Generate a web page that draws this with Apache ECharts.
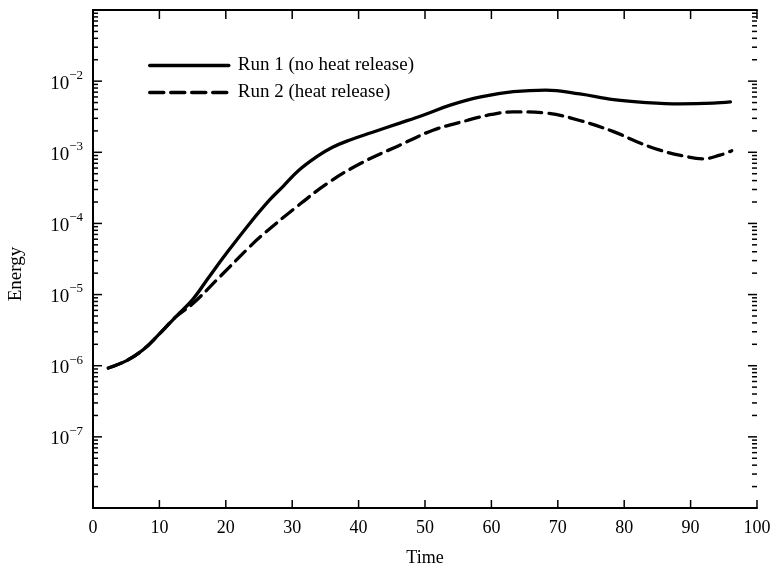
<!DOCTYPE html>
<html>
<head>
<meta charset="utf-8">
<script src="https://cdn.jsdelivr.net/npm/echarts@6/dist/echarts.min.js"></script>
<style>
html,body{margin:0;padding:0;background:#fff;}
#main{width:778px;height:572px;}
</style>
</head>
<body>
<div id="main"></div>
<script>
// Run 1 (no heat release)
var time1 = [2.3, 5, 7.5, 10, 12.5, 15, 17.5, 20.1, 23.6, 26.6, 28.6, 31, 33.7, 36, 38.6, 42, 46.2, 50, 53.8, 58.4, 63.3, 68.2, 73.3, 78.4, 83.4, 88.4, 93.4, 96];
var energy1 = [9.3e-7, 1.17e-6, 1.66e-6, 2.8e-6, 4.9e-6, 8.5e-6, 1.78e-5, 3.8e-5, 1.0e-4, 2.14e-4, 3.3e-4, 5.6e-4, 8.7e-4, 1.17e-3, 1.48e-3, 1.9e-3, 2.57e-3, 3.4e-3, 4.6e-3, 6.0e-3, 7.1e-3, 7.5e-3, 6.6e-3, 5.5e-3, 5.0e-3, 4.8e-3, 4.9e-3, 5.1e-3];
// Run 2 (heat release)
var time2 = [2.3, 5, 7.5, 10, 12.5, 15, 19.1, 23.6, 25.2, 30.2, 35.2, 40.2, 46.2, 51.2, 56.3, 60, 63.3, 68.3, 73.3, 78.4, 81.9, 85.4, 88.9, 91.9, 94.4, 96.2];
var energy2 = [9.3e-7, 1.17e-6, 1.66e-6, 2.8e-6, 4.9e-6, 7.4e-6, 1.78e-5, 4.7e-5, 6.5e-5, 1.58e-4, 3.6e-4, 6.9e-4, 1.26e-3, 2.04e-3, 2.8e-3, 3.4e-3, 3.7e-3, 3.55e-3, 2.8e-3, 1.95e-3, 1.41e-3, 1.07e-3, 8.9e-4, 8.1e-4, 9.1e-4, 1.05e-3];
var seriesNames = ['Run 1 (no heat release)', 'Run 2 (heat release)'];
var labelledExponents = [-7, -6, -5, -4, -3, -2];
var xTicks = [0, 10, 20, 30, 40, 50, 60, 70, 80, 90, 100];

var serif = 'Liberation Serif';
function pairs(xs, ys){ return xs.map(function(x, i){ return [x, ys[i]]; }); }

// log ticks: decades + 2..9 x 10^k
var yTickVals = [];
for (var k = -8; k <= -1; k++) {
    yTickVals.push([0, Math.pow(10, k)]);
    if (k < -1) for (var m = 2; m <= 9; m++) yTickVals.push([0, m * Math.pow(10, k)]);
}
var xTickVals = xTicks.map(function(x){ return [x, 1e-8]; });

function expLabel(v){
    var e = Math.round(Math.log10(v));
    if (labelledExponents.indexOf(e) < 0) return '';
    return '{b|10}{s|\u2212' + (-e) + '}';
}

var tickStyle = {stroke: '#000', lineWidth: 1.5};

var chart = echarts.init(document.getElementById('main'));
var option = {
    animation: false,
    backgroundColor: '#fff',
    grid: {left: 93, right: 21, top: 10, bottom: 64},
    legend: {
        data: seriesNames,
        orient: 'vertical',
        left: 143, top: 51,
        itemWidth: 79, itemHeight: 18, itemGap: 8,
        itemStyle: {opacity: 0},
        lineStyle: {width: 3.5},
        textStyle: {fontFamily: serif, fontSize: 19, color: '#000', padding: [0, 0, 0, 4]}
    },
    xAxis: [{
        type: 'value', min: 0, max: 100, interval: 10,
        name: 'Time', nameLocation: 'middle', nameGap: 41,
        nameTextStyle: {fontFamily: serif, fontSize: 18, color: '#000'},
        axisLine: {lineStyle: {color: '#000', width: 2}},
        axisTick: {show: false},
        axisLabel: {fontFamily: serif, fontSize: 18, color: '#000', margin: 11},
        splitLine: {show: false}
    }, {
        type: 'value', min: 0, max: 100, interval: 10, position: 'top',
        axisLine: {lineStyle: {color: '#000', width: 2}},
        axisTick: {show: false},
        axisLabel: {show: false},
        splitLine: {show: false}
    }],
    yAxis: [{
        type: 'log', logBase: 10, min: 1e-8, max: 1e-1, interval: 1,
        axisLine: {lineStyle: {color: '#000', width: 2}},
        axisTick: {show: false},
        axisLabel: {
            formatter: expLabel, margin: 10, color: '#000',
            rich: {
                b: {fontFamily: serif, fontSize: 19, color: '#000', lineHeight: 24, verticalAlign: 'bottom'},
                s: {fontFamily: serif, fontSize: 13, color: '#000', lineHeight: 24, verticalAlign: 'top'}
            }
        },
        splitLine: {show: false}
    }, {
        type: 'log', logBase: 10, min: 1e-8, max: 1e-1, interval: 1, position: 'right',
        axisLine: {lineStyle: {color: '#000', width: 2}},
        axisTick: {show: false},
        axisLabel: {show: false},
        splitLine: {show: false}
    }],
    graphic: [{
        type: 'text', x: 16, y: 274, rotation: Math.PI / 2,
        style: {text: 'Energy', fontFamily: serif, fontSize: 19, fill: '#000', align: 'center', verticalAlign: 'middle'}
    }],
    series: [{
        name: seriesNames[0], type: 'line', smooth: 0.4, showSymbol: false, symbol: 'none',
        data: pairs(time1, energy1), z: 3,
        lineStyle: {color: '#000', width: 3.3, cap: 'round'},
        itemStyle: {color: '#000'}
    }, {
        name: seriesNames[1], type: 'line', smooth: 0.4, showSymbol: false, symbol: 'none',
        data: pairs(time2, energy2), z: 2,
        lineStyle: {color: '#000', width: 3.3, type: [14, 7], cap: 'round'},
        itemStyle: {color: '#000'}
    }, {
        // left / right log ticks, pointing inward
        name: 'yticks', type: 'custom', silent: true, z: 1, clip: false,
        data: yTickVals,
        renderItem: function(params, api){
            var v = api.value(1);
            var lg = Math.log10(v);
            var len = Math.abs(lg - Math.round(lg)) < 1e-6 ? 9 : 5;
            var pl = api.coord([0, v]);
            var pr = api.coord([100, v]);
            return {type: 'group', children: [
                {type: 'line', shape: {x1: pl[0], y1: pl[1], x2: pl[0] + len, y2: pl[1]}, style: tickStyle},
                {type: 'line', shape: {x1: pr[0] - len, y1: pr[1], x2: pr[0], y2: pr[1]}, style: tickStyle}
            ]};
        }
    }, {
        // bottom / top ticks, pointing inward
        name: 'xticks', type: 'custom', silent: true, z: 1, clip: false,
        data: xTickVals,
        renderItem: function(params, api){
            var x = api.value(0);
            var pb = api.coord([x, 1e-8]);
            var pt = api.coord([x, 1e-1]);
            return {type: 'group', children: [
                {type: 'line', shape: {x1: pb[0], y1: pb[1], x2: pb[0], y2: pb[1] - 8}, style: tickStyle},
                {type: 'line', shape: {x1: pt[0], y1: pt[1], x2: pt[0], y2: pt[1] + 9}, style: tickStyle}
            ]};
        }
    }]
};
chart.setOption(option);
</script>
</body>
</html>
